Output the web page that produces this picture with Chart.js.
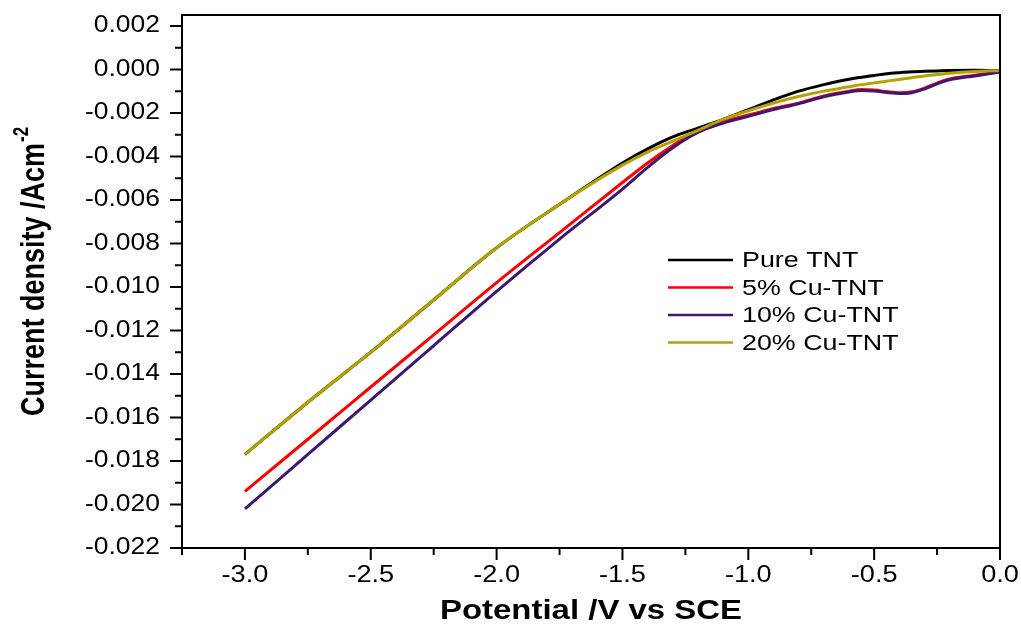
<!DOCTYPE html>
<html>
<head>
<meta charset="utf-8">
<script src="https://cdn.jsdelivr.net/npm/chart.js@4.4.1/dist/chart.umd.min.js"></script>
<style>
  body { margin: 0; background: #fff; }
  #chart { display: block; }
</style>
</head>
<body>
<canvas id="chart" width="1021" height="628"></canvas>
<script>
// potential (V vs SCE), shared by all four curves
const potential = [-3.0, -2.75, -2.5, -2.25, -2.0, -1.75, -1.5, -1.4, -1.3, -1.2, -1.1, -1.0, -0.9, -0.8, -0.7, -0.6, -0.55, -0.5, -0.45, -0.4, -0.35, -0.3, -0.25, -0.2, -0.1, 0.0];

// current density (A cm-2)
const pureTNT = [-0.0177, -0.0153, -0.0130, -0.0106, -0.0082, -0.0062, -0.0043, -0.00365, -0.0031, -0.0027, -0.0023, -0.00185, -0.0014, -0.0010, -0.0007, -0.00045, -0.00036, -0.00028, -0.0002, -0.00015, -0.00011, -0.00009, -0.00007, -0.00005, -0.00004, -0.00005];
const cu5 = [-0.0194, -0.0170, -0.0146, -0.0122, -0.0098, -0.0075, -0.0052, -0.0043, -0.0035, -0.0028, -0.0024, -0.0021, -0.0018, -0.00155, -0.00122, -0.00100, -0.00093, -0.00095, -0.00102, -0.00107, -0.00103, -0.00086, -0.00063, -0.00044, -0.00027, -0.00010];
const cu10 = [-0.0202, -0.0177, -0.0152, -0.0127, -0.0102, -0.0078, -0.0055, -0.0045, -0.0036, -0.0029, -0.00247, -0.00216, -0.00185, -0.00158, -0.00126, -0.00104, -0.00097, -0.00099, -0.00106, -0.00111, -0.00107, -0.0009, -0.00067, -0.00048, -0.0003, -0.00012];
const cu20 = [-0.0177, -0.0153, -0.0130, -0.0106, -0.0082, -0.0062, -0.0044, -0.0038, -0.0033, -0.0028, -0.0023, -0.0019, -0.00155, -0.00125, -0.0010, -0.0008, -0.0007, -0.00062, -0.00054, -0.00046, -0.00038, -0.0003, -0.00024, -0.00018, -0.0001, -0.00005];

const seriesNames = ['Pure TNT', '5% Cu-TNT', '10% Cu-TNT', '20% Cu-TNT'];
const seriesColors = ['#000000', '#ff0000', '#3d1872', '#b3a300'];

const xTicks = [-3.0, -2.5, -2.0, -1.5, -1.0, -0.5, 0.0];
const yTicks = [0.002, 0.000, -0.002, -0.004, -0.006, -0.008, -0.010, -0.012, -0.014, -0.016, -0.018, -0.020, -0.022];

const xTitle = 'Potential /V vs SCE';
const yTitle = 'Current density /Acm';
const yTitleSup = '-2';

function points(ys) {
  return potential.map((x, i) => ({ x: x, y: ys[i] }));
}

// text in the original figure is stretched sideways a little
function stretchedText(ctx, text, x, y, align, font, sx) {
  ctx.save();
  ctx.translate(x, y);
  ctx.scale(sx, 1);
  ctx.font = font;
  ctx.textAlign = align;
  ctx.textBaseline = 'middle';
  ctx.fillText(text, 0, 0);
  ctx.restore();
}

const decorations = {
  id: 'decorations',
  afterDraw(chart) {
    const ctx = chart.ctx;
    const area = chart.chartArea;
    const xs = chart.scales.x;
    const ys = chart.scales.y;
    ctx.save();
    ctx.strokeStyle = '#000';
    ctx.fillStyle = '#000';
    ctx.lineWidth = 2;

    // frame
    ctx.strokeRect(area.left, area.top, area.right - area.left, area.bottom - area.top);

    // x ticks
    ctx.beginPath();
    xTicks.forEach(v => {
      const px = xs.getPixelForValue(v);
      ctx.moveTo(px, area.bottom);
      ctx.lineTo(px, area.bottom + 12);
    });
    xTicks.forEach(v => {
      const px = xs.getPixelForValue(v - 0.25);
      if (v - 0.25 < xs.min - 1e-9) return;
      ctx.moveTo(px, area.bottom);
      ctx.lineTo(px, area.bottom + 7);
    });
    // y ticks
    yTicks.forEach(v => {
      const py = ys.getPixelForValue(v);
      ctx.moveTo(area.left, py);
      ctx.lineTo(area.left - 12, py);
    });
    yTicks.forEach(v => {
      if (v + 0.001 > ys.max) return;
      const py = ys.getPixelForValue(v + 0.001);
      ctx.moveTo(area.left, py);
      ctx.lineTo(area.left - 7, py);
    });
    ctx.stroke();

    // tick labels
    const tickFont = '23px "Liberation Sans", Arial, sans-serif';
    xTicks.forEach(v => {
      stretchedText(ctx, v.toFixed(1), xs.getPixelForValue(v), area.bottom + 28, 'center', tickFont, 1.18);
    });
    yTicks.forEach(v => {
      stretchedText(ctx, Math.abs(v) < 1e-9 ? '0.000' : v.toFixed(3), area.left - 22, ys.getPixelForValue(v), 'right', tickFont, 1.15);
    });

    // axis titles
    const titleFont = 'bold 27px "Liberation Sans", Arial, sans-serif';
    stretchedText(ctx, xTitle, (area.left + area.right) / 2, 612, 'center', titleFont, 1.22);

    ctx.save();
    ctx.translate(35, 272);
    ctx.rotate(-Math.PI / 2);
    ctx.scale(1, 1.25);
    ctx.textBaseline = 'middle';
    ctx.textAlign = 'left';
    ctx.font = titleFont;
    const w1 = ctx.measureText(yTitle).width;
    const supFont = 'bold 17px "Liberation Sans", Arial, sans-serif';
    ctx.font = supFont;
    const w2 = ctx.measureText(yTitleSup).width;
    const start = -(w1 + w2) / 2;
    ctx.font = titleFont;
    ctx.fillText(yTitle, start, 0);
    ctx.font = supFont;
    ctx.fillText(yTitleSup, start + w1 + 1, -10);
    ctx.restore();

    // legend
    chart.data.datasets.forEach((ds, i) => {
      const y = 260 + i * 27.5;
      ctx.beginPath();
      ctx.strokeStyle = ds.borderColor;
      ctx.lineWidth = 2.5;
      ctx.moveTo(668, y);
      ctx.lineTo(733, y);
      ctx.stroke();
      ctx.fillStyle = '#000';
      stretchedText(ctx, ds.label, 742, y + 1, 'left', '22px "Liberation Sans", Arial, sans-serif', 1.22);
    });

    ctx.restore();
  }
};

const allSeries = [pureTNT, cu5, cu10, cu20];
const drawOrder = [3, 2, 1, 0];

new Chart(document.getElementById('chart'), {
  type: 'line',
  data: {
    datasets: allSeries.map((ys, i) => ({
      label: seriesNames[i],
      data: points(ys),
      borderColor: seriesColors[i],
      borderWidth: 3,
      pointRadius: 0,
      fill: false,
      cubicInterpolationMode: 'monotone',
      order: drawOrder[i]
    }))
  },
  options: {
    responsive: false,
    animation: false,
    devicePixelRatio: 1,
    layout: { padding: { left: 0, top: 15, right: 21, bottom: 0 } },
    plugins: { legend: { display: false }, tooltip: { enabled: false } },
    scales: {
      x: {
        type: 'linear',
        min: -3.25,
        max: 0,
        grid: { display: false },
        border: { display: false },
        ticks: { display: false },
        afterFit: s => { s.height = 80; }
      },
      y: {
        type: 'linear',
        min: -0.022,
        max: 0.0025,
        grid: { display: false },
        border: { display: false },
        ticks: { display: false },
        afterFit: s => { s.width = 182; }
      }
    }
  },
  plugins: [decorations]
});
</script>
</body>
</html>
